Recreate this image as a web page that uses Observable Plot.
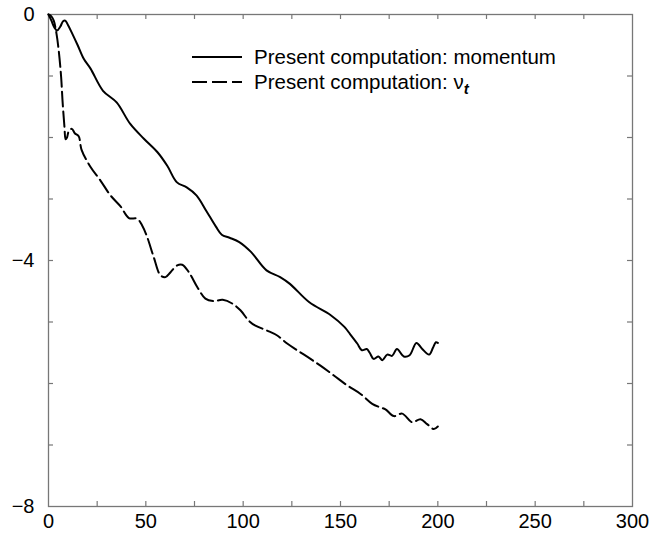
<!DOCTYPE html>
<html>
<head>
<meta charset="utf-8">
<script src="https://cdn.jsdelivr.net/npm/d3@7"></script>
<script src="https://cdn.jsdelivr.net/npm/@observablehq/plot@0.6"></script>
<style>
  body { margin: 0; background: white; }
  #wrap { position: relative; width: 654px; height: 535px; }
  #wrap svg { position: absolute; left: 0; top: 0; }
</style>
</head>
<body>
<div id="wrap"></div>
<script>
// ---- data ----
const momX = [0, 1.5, 3, 4.4, 6, 7.5, 8.6, 10, 12.2, 15, 18.1, 21.6, 28, 35, 42, 49, 56, 61, 66, 71, 76, 81, 86, 89, 93, 98, 104, 112, 119, 124, 134, 145, 152, 155, 158.6, 161, 163.5, 165, 167, 169.5, 171.5, 174, 176.5, 179, 182.5, 185.5, 189, 192, 195.5, 197.5, 199, 200];
const momY = [0, -0.1, -0.21, -0.26, -0.2, -0.11, -0.1, -0.17, -0.31, -0.5, -0.72, -0.88, -1.24, -1.43, -1.78, -2.02, -2.24, -2.46, -2.73, -2.81, -2.94, -3.19, -3.45, -3.58, -3.63, -3.70, -3.86, -4.16, -4.27, -4.38, -4.68, -4.89, -5.08, -5.2, -5.35, -5.46, -5.44, -5.5, -5.60, -5.56, -5.62, -5.53, -5.55, -5.44, -5.56, -5.54, -5.34, -5.44, -5.53, -5.42, -5.33, -5.34];

const nuX = [0, 1.5, 2.7, 4.1, 5.3, 6.5, 7.2, 8.2, 8.8, 9.5, 10.5, 12, 13.5, 15.5, 17, 21.6, 26.7, 31.8, 37, 41.3, 45.5, 48.1, 50.7, 54.1, 57.5, 60.1, 62.7, 66.1, 68.7, 72.1, 76.4, 80.6, 84.5, 89.5, 94.4, 98.6, 102.9, 106.3, 112.3, 117.5, 122.6, 127.8, 134.6, 139.7, 146.6, 153.4, 160.3, 166.3, 170.5, 173.1, 177.4, 181.7, 186.8, 191.1, 194.5, 197.9, 200];
const nuY = [0, -0.03, -0.1, -0.31, -0.6, -1.02, -1.4, -1.83, -2.03, -2.0, -1.89, -1.86, -1.93, -1.98, -2.2, -2.48, -2.70, -2.94, -3.12, -3.31, -3.32, -3.43, -3.62, -3.95, -4.24, -4.27, -4.19, -4.08, -4.07, -4.19, -4.43, -4.62, -4.66, -4.64, -4.70, -4.81, -4.98, -5.06, -5.14, -5.22, -5.35, -5.46, -5.60, -5.71, -5.87, -6.03, -6.17, -6.33, -6.39, -6.42, -6.53, -6.49, -6.63, -6.58, -6.66, -6.74, -6.70];

const xTickLabels = [0, 50, 100, 150, 200, 250, 300];
const xTickMarks = [25, 50, 75, 100, 125, 150, 175, 200, 225, 250, 275];
const yTickLabels = [0, -4, -8];
const yTickMarks = [-1, -2, -3, -4, -5, -6, -7];
const legendLabels = ["Present computation: momentum", "Present computation: ν", "t"];

// ---- chart ----
const momentum = momX.map((x, i) => ({x, y: momY[i]}));
const nu = nuX.map((x, i) => ({x, y: nuY[i]}));

const W = 654, H = 535, ML = 48, MR = 22, MT = 14, MB = 29;
const PW = W - ML - MR, PH = H - MT - MB;
const axisColor = "#777";
const font = "'Liberation Sans', Arial, Helvetica, sans-serif";
const fmt = d => (d < 0 ? "\u2212" + Math.abs(d) : String(d));

const chart = Plot.plot({
  width: W, height: H,
  marginLeft: ML, marginRight: MR, marginTop: MT, marginBottom: MB,
  x: {domain: [0, 300]},
  y: {domain: [-8, 0]},
  style: {fontFamily: font, fontSize: "20px", color: "black", background: "white", overflow: "visible"},
  marks: [
    Plot.frame({stroke: axisColor, strokeWidth: 1.3}),
    Plot.tickX(xTickMarks, {x: d => d, insetTop: PH - 5, stroke: axisColor, strokeWidth: 1.2}),
    Plot.tickX(xTickMarks, {x: d => d, insetBottom: PH - 5, stroke: axisColor, strokeWidth: 1.2}),
    Plot.tickY(yTickMarks, {y: d => d, insetRight: PW - 5, stroke: axisColor, strokeWidth: 1.2}),
    Plot.tickY(yTickMarks, {y: d => d, insetLeft: PW - 5, stroke: axisColor, strokeWidth: 1.2}),
    Plot.axisX({ticks: xTickLabels, tickSize: 0, tickPadding: 7, fontSize: 20, label: null, tickFormat: fmt}),
    Plot.axisY({ticks: yTickLabels, tickSize: 0, tickPadding: 14, fontSize: 20, label: null, tickFormat: fmt}),
    Plot.line(momentum, {x: "x", y: "y", stroke: "black", strokeWidth: 2, curve: "catmull-rom"}),
    Plot.line(nu, {x: "x", y: "y", stroke: "black", strokeWidth: 2, strokeDasharray: "15,5", curve: "catmull-rom"})
  ]
});
document.getElementById("wrap").appendChild(chart);

// ---- legend overlay ----
const ns = "http://www.w3.org/2000/svg";
const leg = document.createElementNS(ns, "svg");
leg.setAttribute("width", W);
leg.setAttribute("height", H);
leg.style.pointerEvents = "none";
leg.style.fontFamily = font;
leg.style.fontSize = "20.5px";
function el(tag, attrs, parent) {
  const e = document.createElementNS(ns, tag);
  for (const k in attrs) e.setAttribute(k, attrs[k]);
  parent.appendChild(e);
  return e;
}
el("line", {x1: 192, x2: 242, y1: 57, y2: 57, stroke: "black", "stroke-width": 2}, leg);
el("line", {x1: 192, x2: 242, y1: 82, y2: 82, stroke: "black", "stroke-width": 2, "stroke-dasharray": "15,5"}, leg);
const t1 = el("text", {x: 254, y: 64, fill: "black"}, leg);
t1.textContent = legendLabels[0];
const t2 = el("text", {x: 254, y: 89, fill: "black"}, leg);
t2.appendChild(document.createTextNode(legendLabels[1]));
const sub = el("tspan", {dy: 5, "font-style": "italic", "font-weight": "bold", "font-size": "15px"}, t2);
sub.textContent = legendLabels[2];
document.getElementById("wrap").appendChild(leg);
</script>
</body>
</html>
